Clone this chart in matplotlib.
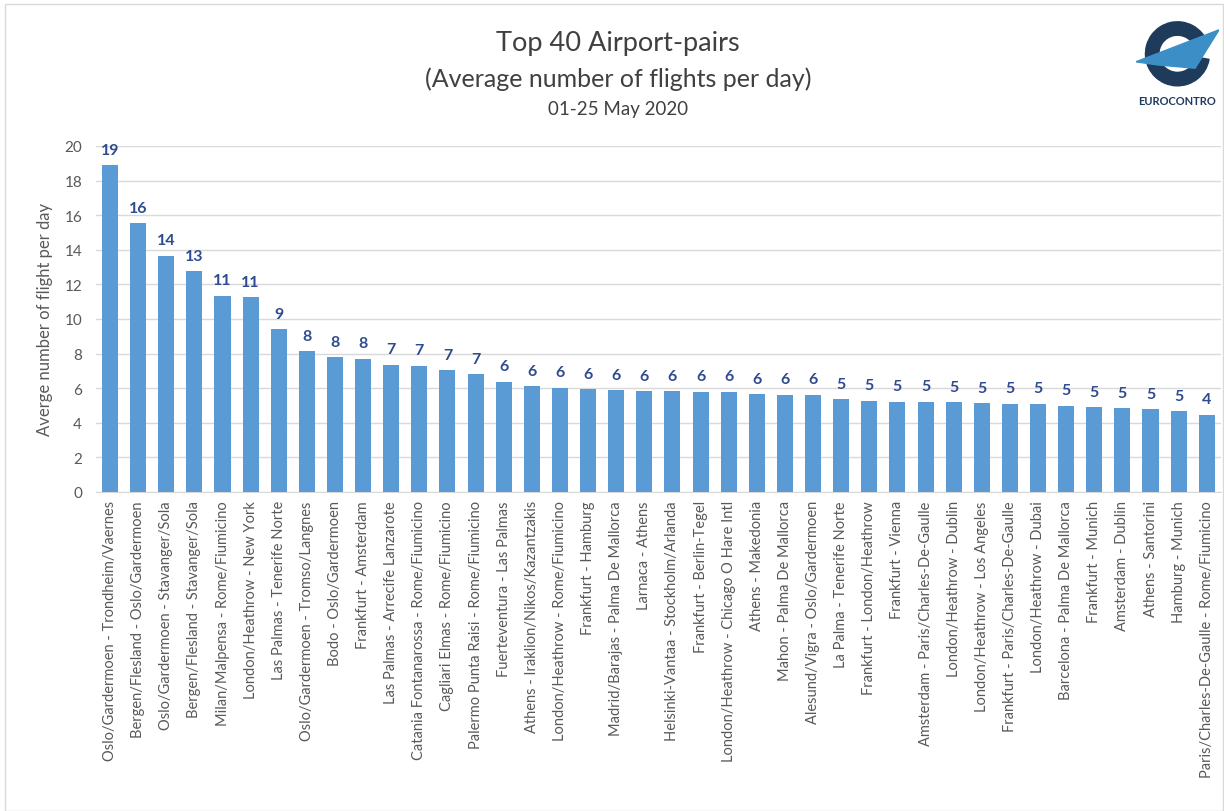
import matplotlib.pyplot as plt
from matplotlib.patches import Wedge, Polygon, Rectangle

plt.rcParams["font.family"] = ["Lato", "DejaVu Sans"]

PAIRS = [
    "Oslo/Gardermoen - Trondheim/Vaernes",
    "Bergen/Flesland - Oslo/Gardermoen",
    "Oslo/Gardermoen - Stavanger/Sola",
    "Bergen/Flesland - Stavanger/Sola",
    "Milan/Malpensa - Rome/Fiumicino",
    "London/Heathrow - New York",
    "Las Palmas - Tenerife Norte",
    "Oslo/Gardermoen - Tromso/Langnes",
    "Bodo - Oslo/Gardermoen",
    "Frankfurt - Amsterdam",
    "Las Palmas - Arrecife Lanzarote",
    "Catania Fontanarossa - Rome/Fiumicino",
    "Cagliari Elmas - Rome/Fiumicino",
    "Palermo Punta Raisi - Rome/Fiumicino",
    "Fuerteventura - Las Palmas",
    "Athens - Iraklion/Nikos/Kazantzakis",
    "London/Heathrow - Rome/Fiumicino",
    "Frankfurt - Hamburg",
    "Madrid/Barajas - Palma De Mallorca",
    "Larnaca - Athens",
    "Helsinki-Vantaa - Stockholm/Arlanda",
    "Frankfurt - Berlin-Tegel",
    "London/Heathrow - Chicago O Hare Intl",
    "Athens - Makedonia",
    "Mahon - Palma De Mallorca",
    "Alesund/Vigra - Oslo/Gardermoen",
    "La Palma - Tenerife Norte",
    "Frankfurt - London/Heathrow",
    "Frankfurt - Vienna",
    "Amsterdam - Paris/Charles-De-Gaulle",
    "London/Heathrow - Dublin",
    "London/Heathrow - Los Angeles",
    "Frankfurt - Paris/Charles-De-Gaulle",
    "London/Heathrow - Dubai",
    "Barcelona - Palma De Mallorca",
    "Frankfurt - Munich",
    "Amsterdam - Dublin",
    "Athens - Santorini",
    "Hamburg - Munich",
    "Paris/Charles-De-Gaulle - Rome/Fiumicino",
]

FLIGHTS = [
    18.9, 15.55, 13.65, 12.75, 11.35, 11.25, 9.4, 8.15, 7.8, 7.7,
    7.35, 7.3, 7.05, 6.8, 6.38, 6.13, 6.02, 5.94, 5.9, 5.83,
    5.83, 5.79, 5.79, 5.65, 5.62, 5.62, 5.35, 5.27, 5.21, 5.21,
    5.17, 5.13, 5.1, 5.1, 4.98, 4.9, 4.83, 4.77, 4.65, 4.46,
]

YTICKS = list(range(0, 21, 2))

BAR_COLOR = "#5B9BD5"
LABEL_COLOR = "#2F4B8F"
TEXT_COLOR = "#595959"

fig = plt.figure(figsize=(12.24, 8.12), dpi=100)
fig.patches.append(Rectangle((0.004, 0.0), 0.995, 0.994, transform=fig.transFigure,
                             fill=False, edgecolor="#D9D9D9", linewidth=1.0))

ax = fig.add_axes([0.0784, 0.393, 0.919, 0.426])
xs = list(range(len(PAIRS)))
ax.bar(xs, FLIGHTS, width=0.57, color=BAR_COLOR, zorder=3)
for x, v in zip(xs, FLIGHTS):
    ax.annotate(f"{round(v)}", (x, v), xytext=(0, 6), textcoords="offset points",
                ha="center", va="bottom", fontsize=11.5, fontweight="bold", color=LABEL_COLOR)

ax.set_xlim(-0.5, len(PAIRS) - 0.5)
ax.set_ylim(0, 20)
ax.set_yticks(YTICKS)
ax.yaxis.grid(True, color="#D9D9D9", linewidth=1.0, zorder=0)
ax.set_xticks(xs)
ax.set_xticklabels(PAIRS, rotation=90, fontsize=10.5, color=TEXT_COLOR)
ax.tick_params(axis="y", labelsize=11, labelcolor=TEXT_COLOR, length=0, pad=10)
ax.tick_params(axis="x", length=0, pad=6)
for side in ["top", "right", "left"]:
    ax.spines[side].set_visible(False)
ax.spines["bottom"].set_color("#D9D9D9")
ax.set_ylabel("Averge number of flight per day", fontsize=12, color=TEXT_COLOR, labelpad=8)

fig.text(0.505, 0.946, "Top 40 Airport-pairs", ha="center", va="center", fontsize=19.5, color="#404040")
fig.text(0.505, 0.903, "(Average number of flights per day)", ha="center", va="center", fontsize=18, color="#404040")
fig.text(0.505, 0.865, "01-25 May 2020", ha="center", va="center", fontsize=13.5, color="#404040")

# rough logo
lax = fig.add_axes([0.928, 0.885, 0.068, 0.095])
lax.set_xlim(-1.3, 1.3)
lax.set_ylim(-1.1, 1.1)
lax.set_aspect("equal")
lax.axis("off")
lax.add_patch(Wedge((0, 0), 1.0, 20, 350, width=0.42, color="#1F3B5C"))
lax.add_patch(Polygon([(-1.3, -0.25), (1.3, 0.75), (0.55, -0.45), (-0.6, -0.35)], color="#3C8FC6"))
fig.text(0.962, 0.875, "EUROCONTRO", ha="center", va="center", fontsize=8, fontweight="bold", color="#1F3B5C")

fig.savefig("out.png", dpi=100)
